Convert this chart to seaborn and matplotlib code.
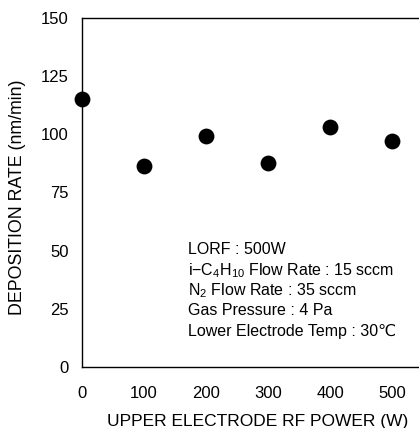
import matplotlib
matplotlib.use("Agg")
import matplotlib.pyplot as plt
import seaborn as sns
import pandas as pd
from matplotlib.ticker import MultipleLocator

power = [0, 100, 200, 300, 400, 500]
rate = [115.2, 86.5, 99.1, 87.8, 103.1, 97.0]
xticks = [0, 100, 200, 300, 400, 500]
yticks = [0, 25, 50, 75, 100, 125, 150]
notes = [
    "LORF : 500W",
    r"i−C$_{\mathregular{4}}$H$_{\mathregular{10}}$ Flow Rate : 15 sccm",
    r"N$_{\mathregular{2}}$ Flow Rate : 35 sccm",
    "Gas Pressure : 4 Pa",
    "Lower Electrode Temp : 30℃",
]

sns.set_theme(style="white")
plt.rcParams['font.family'] = ['Liberation Sans', 'DejaVu Sans']
plt.rcParams['mathtext.fontset'] = 'custom'
plt.rcParams['mathtext.rm'] = 'Liberation Sans'

df = pd.DataFrame({"power": power, "rate": rate})
fig = plt.figure(figsize=(4.19, 4.28), dpi=100)
ax = fig.add_axes([82/419, 61/428, 341/419, 349/428])
sns.scatterplot(data=df, x="power", y="rate", ax=ax, s=130, color="black",
                edgecolor="black", linewidth=0, clip_on=False, zorder=5)
ax.set_xlim(0, 550)
ax.set_ylim(0, 150)
ax.set_xticks(xticks)
ax.set_yticks(yticks)
ax.xaxis.set_minor_locator(MultipleLocator(50))
ax.yaxis.set_minor_locator(MultipleLocator(12.5))
ax.tick_params(which="both", direction="in", length=4, width=1, color="black",
               labelsize=12, labelcolor="black")
ax.tick_params(axis="x", which="major", pad=14)
ax.tick_params(axis="y", which="major", pad=9.5)
for s in ax.spines.values():
    s.set_color("black")
    s.set_linewidth(1)
ax.set_xlabel("UPPER ELECTRODE RF POWER (W)", fontsize=12.5, color="black", labelpad=9)
ax.set_ylabel("DEPOSITION RATE (nm/min)", fontsize=12.8, color="black", labelpad=11)
ax.xaxis.label.set_x(0.515)
ax.yaxis.label.set_y(0.486)

for i, t in enumerate(notes):
    fig.text(188/419, 1 - (250 + i*20.3)/428, t, fontsize=11.5, color="black",
             ha="left", va="center")

fig.savefig("out.png", dpi=100)
